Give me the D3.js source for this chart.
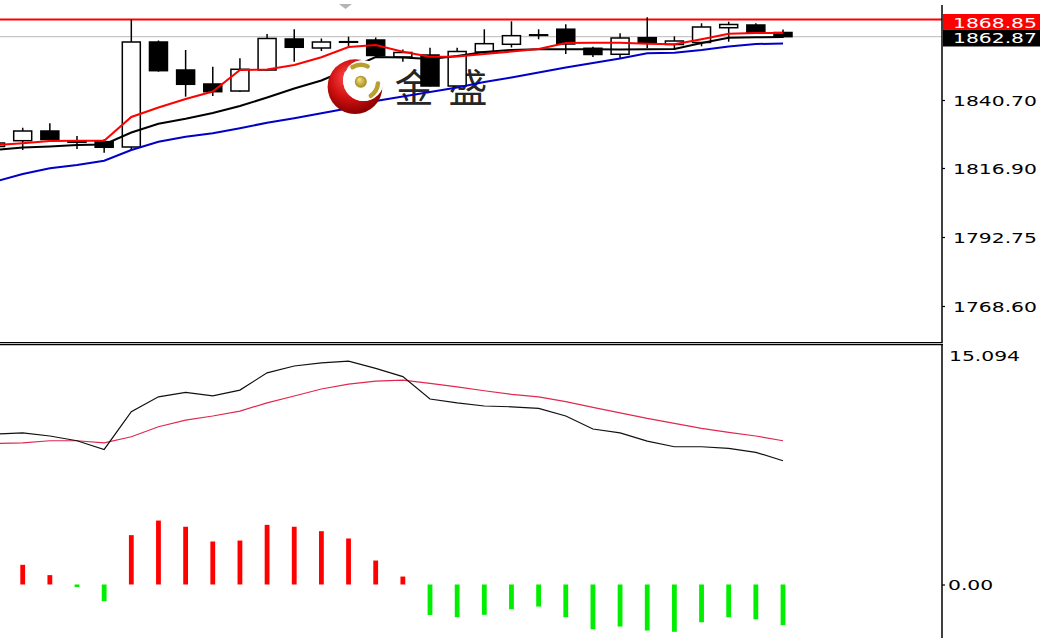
<!DOCTYPE html>
<html><head><meta charset="utf-8">
<script src="https://cdn.jsdelivr.net/npm/d3@7"></script>
<style>html,body{margin:0;padding:0;background:#fff;overflow:hidden}</style>
</head><body><svg id="c" width="1040" height="638"></svg>
<script>
// ---------- data ----------
const barIndex = [-1,0,1,2,3,4,5,6,7,8,9,10,11,12,13,14,15,16,17,18,19,20,21,22,23,24,25,26,27,28];
const opens  = [1824.43,1826.46,1829.85,1826.18,1826.11,1824.25,1861.00,1851.20,1846.30,1843.85,1851.20,1862.05,1858.90,1860.93,1861.70,1855.75,1856.45,1845.60,1857.50,1860.20,1863.38,1865.48,1858.80,1856.70,1862.51,1860.13,1860.83,1866.00,1866.95,1864.33];
const highs  = [1826.35,1830.99,1832.55,1828.10,1826.95,1868.85,1861.53,1858.20,1852.36,1855.30,1863.80,1865.45,1862.23,1862.86,1862.58,1858.38,1859.01,1859.01,1865.45,1868.25,1865.45,1867.23,1859.36,1864.05,1869.65,1863.00,1867.55,1868.11,1867.55,1865.38];
const lows   = [1823.55,1823.20,1826.35,1823.55,1822.26,1823.20,1850.61,1841.86,1842.10,1843.50,1851.03,1854.11,1857.85,1859.08,1855.58,1854.11,1845.43,1845.43,1857.15,1859.08,1861.95,1856.80,1855.75,1855.40,1858.90,1858.20,1859.50,1861.10,1863.98,1862.40];
const closes = [1825.65,1829.85,1826.88,1825.90,1824.15,1861.00,1850.96,1846.20,1843.61,1851.45,1862.23,1859.15,1861.00,1861.11,1856.28,1857.33,1845.60,1857.68,1860.41,1863.21,1863.52,1860.30,1856.63,1862.40,1860.55,1861.35,1866.25,1867.13,1864.33,1862.87];
const maFast = [1824.95,1825.55,1826.35,1826.46,1826.46,1834.75,1838.08,1841.05,1843.68,1851.20,1851.38,1852.95,1855.65,1859.25,1859.95,1857.61,1855.86,1855.93,1856.80,1857.68,1858.55,1860.65,1860.76,1860.76,1860.41,1860.20,1861.95,1863.91,1864.15,1864.15];
const maMid  = [1823.20,1824.08,1824.43,1824.95,1825.13,1829.33,1832.41,1834.12,1836.15,1838.60,1841.58,1844.73,1847.53,1851.55,1855.75,1855.58,1855.05,1856.10,1857.50,1858.20,1858.48,1858.45,1858.45,1858.38,1858.45,1858.55,1860.65,1862.47,1862.68,1862.75];
const maSlow = [1812.18,1814.80,1816.80,1817.95,1819.46,1823.20,1826.11,1827.86,1829.05,1830.80,1832.76,1834.30,1836.05,1837.80,1840.35,1841.93,1843.50,1845.08,1847.00,1848.58,1850.33,1852.08,1853.65,1855.23,1857.06,1857.26,1858.20,1859.43,1860.30,1860.48];
const macdLine   = [9.48,9.56,9.36,9.06,8.51,10.89,11.83,12.11,11.89,12.25,13.34,13.77,13.97,14.08,13.62,13.10,11.69,11.45,11.25,11.20,11.10,10.62,9.80,9.56,9.04,8.68,8.68,8.58,8.33,7.80];
const signalLine = [8.88,8.93,9.06,9.06,8.93,9.31,9.94,10.36,10.62,10.93,11.45,11.88,12.32,12.63,12.82,12.88,12.68,12.46,12.21,11.98,11.83,11.52,11.16,10.82,10.47,10.16,9.84,9.59,9.36,9.06];
const histValues = [1.76,1.24,0.59,-0.16,-1.05,3.11,4.03,3.64,2.71,2.77,3.76,3.64,3.36,2.90,1.51,0.50,-1.92,-2.06,-1.91,-1.56,-1.39,-2.06,-2.82,-2.65,-2.90,-2.98,-2.38,-2.06,-2.19,-2.56];
const priceTicks = [1840.70, 1816.90, 1792.75, 1768.60];
const lineLevel = 1868.85;   // red horizontal line
const bidLevel  = 1862.87;   // current price
const macdTicks = [0];
const macdTopLabel = "15.094";
const logoChars = ["金", "盛"];

// ---------- layout ----------
const svg = d3.select('#c');
const axisX = 942;
const x  = d3.scaleLinear().domain([0, 28]).range([22.7, 783]);
const yP = d3.scaleLinear().domain([1768.60, 1840.70]).range([306, 100]);
const yM = d3.scaleLinear().domain([-3.372, 15.094]).range([638, 345]);
const FONT = 'DejaVu Sans, Verdana, sans-serif';
const STRETCH = 1.45;

const defs = svg.append('defs');
defs.append('clipPath').attr('id','clipU').append('rect').attr('x',0).attr('y',0).attr('width',axisX).attr('height',341);
defs.append('clipPath').attr('id','clipL').append('rect').attr('x',0).attr('y',345).attr('width',axisX).attr('height',293);

const up = svg.append('g').attr('clip-path','url(#clipU)');

// horizontal levels
up.append('line').attr('x1',0).attr('x2',axisX).attr('y1',yP(bidLevel)).attr('y2',yP(bidLevel))
  .attr('stroke','#c8c8c8').attr('stroke-width',1.3);
up.append('line').attr('x1',0).attr('x2',axisX).attr('y1',yP(lineLevel)).attr('y2',yP(lineLevel))
  .attr('stroke','#ff0000').attr('stroke-width',2);

// shift marker
up.append('path').attr('d','M339,4 L352,4 L345.5,9 Z').attr('fill','#b4b4b4');

// watermark characters
up.selectAll('text.logo').data(logoChars).join('text').attr('class','logo')
  .attr('x',(d,i)=>414 + i*54).attr('y',101.5).attr('text-anchor','middle')
  .attr('font-family','Noto Sans CJK SC').attr('font-size',39).attr('fill','#262626')
  .text(d=>d);

// candles
const candles = barIndex.map((b,i)=>({b,o:opens[i],h:highs[i],l:lows[i],c:closes[i]}));
up.selectAll('line.wick').data(candles).join('line').attr('class','wick')
  .attr('x1',d=>x(d.b)).attr('x2',d=>x(d.b)).attr('y1',d=>yP(d.h)).attr('y2',d=>yP(d.l))
  .attr('stroke','#000').attr('stroke-width',1.5);
up.selectAll('rect.body').data(candles).join('rect').attr('class','body')
  .attr('x',d=>x(d.b)-9).attr('width',18)
  .attr('y',d=>yP(Math.max(d.o,d.c)))
  .attr('height',d=>Math.max(0.6,Math.abs(yP(d.o)-yP(d.c))))
  .attr('fill',d=>d.c>=d.o?'#fff':'#000').attr('stroke','#000').attr('stroke-width',1.5);

// moving averages
const mkLine = (ys, yscale) => d3.line().x((d,i)=>x(barIndex[i])).y(d=>yscale(d))(ys);
up.append('path').attr('d',mkLine(maSlow,yP)).attr('fill','none').attr('stroke','#0000c8').attr('stroke-width',2);
up.append('path').attr('d',mkLine(maMid,yP)).attr('fill','none').attr('stroke','#000').attr('stroke-width',2);
up.append('path').attr('d',mkLine(maFast,yP)).attr('fill','none').attr('stroke','#ff0000').attr('stroke-width',2);

// logo emblem
const rg = defs.append('radialGradient').attr('id','redG').attr('cx','45%').attr('cy','40%').attr('r','60%').attr('fx','35%').attr('fy','30%');
rg.append('stop').attr('offset','0%').attr('stop-color','#ff4a4a');
rg.append('stop').attr('offset','60%').attr('stop-color','#d01010');
rg.append('stop').attr('offset','100%').attr('stop-color','#8a0000');
const gg = defs.append('radialGradient').attr('id','goldG').attr('fx','35%').attr('fy','30%');
gg.append('stop').attr('offset','0%').attr('stop-color','#f6e88a');
gg.append('stop').attr('offset','100%').attr('stop-color','#a88a18');
const mask = defs.append('mask').attr('id','cres');
mask.append('rect').attr('x',0).attr('y',0).attr('width',1040).attr('height',638).attr('fill','#fff');
mask.append('circle').attr('cx',363.5).attr('cy',80.5).attr('r',20.5).attr('fill','#000');
const logo = up.append('g');
logo.append('circle').attr('cx',355).attr('cy',86.7).attr('r',27.4).attr('fill','url(#redG)').attr('mask','url(#cres)');
logo.append('circle').attr('cx',363.5).attr('cy',80.5).attr('r',20.3).attr('fill','#fff');
logo.append('circle').attr('cx',360.8).attr('cy',81.7).attr('r',6).attr('fill','url(#goldG)');
const arcG = d3.arc().cornerRadius(2);
logo.append('path').attr('transform','translate(360.8,81.7)')
  .attr('d',arcG({innerRadius:14.5,outerRadius:19,startAngle:-0.65,endAngle:0.55})).attr('fill','#b8a030');
logo.append('path').attr('transform','translate(360.8,81.7)')
  .attr('d',arcG({innerRadius:15,outerRadius:19.5,startAngle:1.55,endAngle:2.65})).attr('fill','#b8a030');

// ---------- lower panel ----------
const lo = svg.append('g').attr('clip-path','url(#clipL)');
lo.selectAll('rect.hist').data(barIndex.map((b,i)=>({b,v:histValues[i]}))).join('rect').attr('class','hist')
  .attr('x',d=>x(d.b)-2.4).attr('width',4.8)
  .attr('y',d=>Math.min(yM(d.v),yM(0))).attr('height',d=>Math.abs(yM(d.v)-yM(0)))
  .attr('fill',d=>d.v>=0?'#ff0000':'#00ee00');
lo.append('path').attr('d',mkLine(signalLine,yM)).attr('fill','none').attr('stroke','#e0284f').attr('stroke-width',1.2);
lo.append('path').attr('d',mkLine(macdLine,yM)).attr('fill','none').attr('stroke','#111').attr('stroke-width',1.2);

// ---------- frame ----------
svg.append('line').attr('x1',0).attr('x2',axisX).attr('y1',342.5).attr('y2',342.5).attr('stroke','#000').attr('stroke-width',1);
svg.append('line').attr('x1',0).attr('x2',axisX+1).attr('y1',344.5).attr('y2',344.5).attr('stroke','#000').attr('stroke-width',1.6);
svg.append('line').attr('x1',axisX).attr('x2',axisX).attr('y1',5).attr('y2',343).attr('stroke','#000').attr('stroke-width',1.5);
svg.append('line').attr('x1',axisX).attr('x2',axisX).attr('y1',344).attr('y2',638).attr('stroke','#000').attr('stroke-width',1.5);

// ---------- axes ----------
function styleText(sel){
  sel.attr('font-family',FONT).attr('font-size',14).attr('fill','#000');
  sel.each(function(){ const l=this.getComputedTextLength(); if(l>0){ d3.select(this).attr('textLength',l*STRETCH).attr('lengthAdjust','spacingAndGlyphs'); } });
}
const pa = svg.append('g').attr('transform',`translate(${axisX},0)`)
  .call(d3.axisRight(yP).tickValues(priceTicks).tickSize(3).tickPadding(8).tickFormat(d=>d.toFixed(2)));
pa.select('.domain').remove();
pa.attr('font-family',FONT).attr('font-size',14);
pa.selectAll('line').attr('stroke','#000').attr('stroke-width',1.2);
pa.selectAll('text').attr('dy','0.36em');
styleText(pa.selectAll('text'));

const ma = svg.append('g').attr('transform',`translate(${axisX},0)`)
  .call(d3.axisRight(yM).tickValues(macdTicks).tickSize(3).tickPadding(3).tickFormat(d=>d.toFixed(2)));
ma.select('.domain').remove();
ma.attr('font-family',FONT).attr('font-size',14);
ma.selectAll('line').attr('stroke','#000').attr('stroke-width',1.2);
ma.selectAll('text').attr('dy','0.36em');
styleText(ma.selectAll('text'));

const topT = svg.append('text').attr('x',949).attr('y',360.7).text(macdTopLabel);
styleText(topT);

// price labels
svg.append('rect').attr('x',943).attr('y',14).attr('width',97).attr('height',15.5).attr('fill','#ff0000');
const t1 = svg.append('text').attr('x',953).attr('y',28.3).text(lineLevel.toFixed(2));
styleText(t1); t1.attr('fill','#fff');
svg.append('rect').attr('x',943).attr('y',29.5).attr('width',97).attr('height',17).attr('fill','#000');
const t2 = svg.append('text').attr('x',953).attr('y',42.7).text(bidLevel.toFixed(2));
styleText(t2); t2.attr('fill','#fff');
</script>
</body></html>
